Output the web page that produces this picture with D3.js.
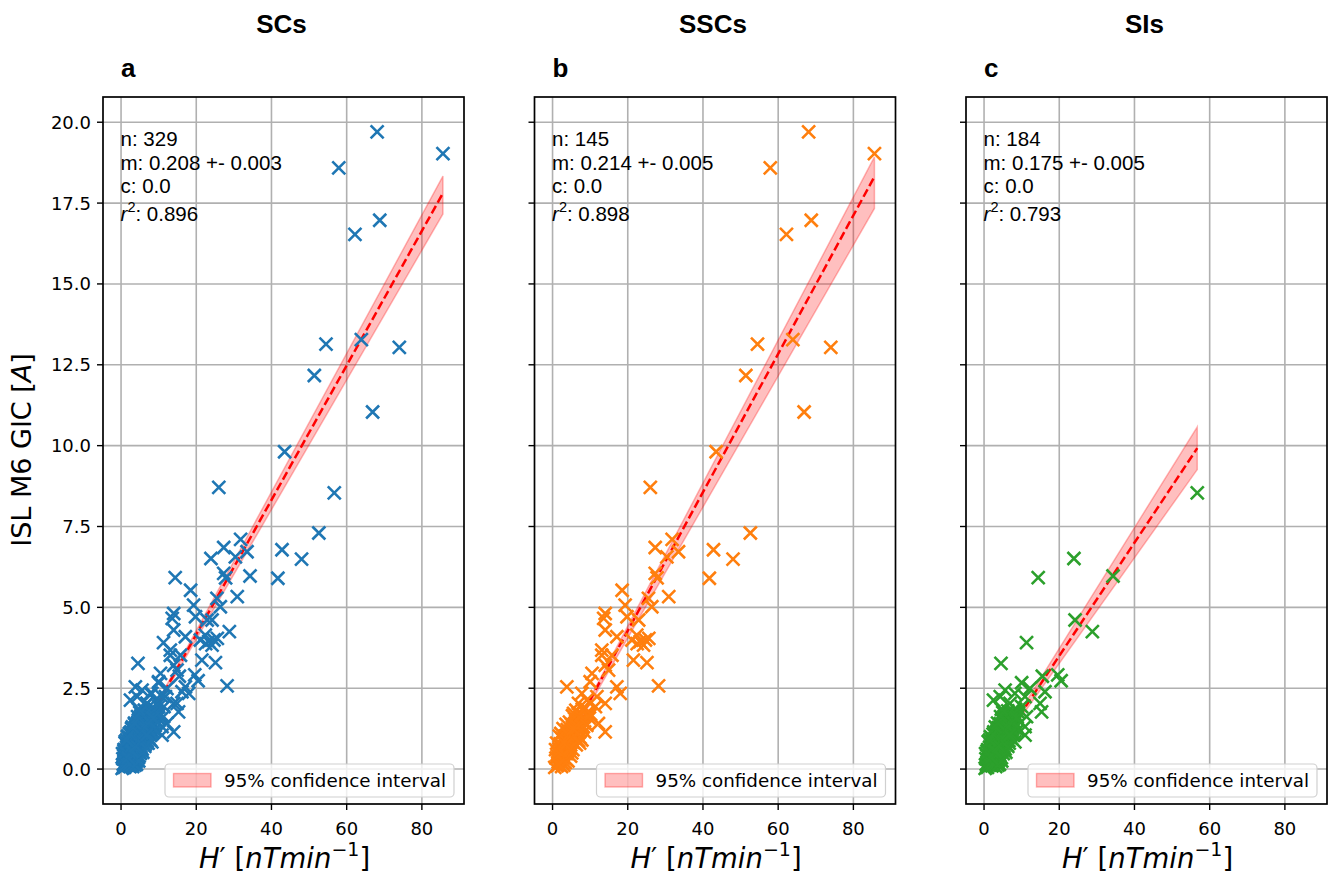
<!DOCTYPE html>
<html>
<head>
<meta charset="utf-8">
<script src="https://cdn.jsdelivr.net/npm/d3@7"></script>
<style>
  body { margin: 0; background: #ffffff; }
  svg { display: block; }
</style>
</head>
<body>
<svg id="chart" width="1328" height="876"></svg>
<script>
// ---- data: H' [nT/min] vs ISL M6 GIC [A] ----
// Storm sudden commencements
const sscPoints = [
  [68.1,19.70],[57.9,18.59],[85.6,19.03],[68.8,16.97],[62.2,16.53],[54.5,13.14],[63.9,13.28],[74.0,13.04],[51.4,12.17],[66.9,11.04],
  [43.5,9.81],[26.0,8.71],[52.6,7.30],[48.0,6.49],[41.7,5.90],[31.8,7.10],[27.3,6.85],[42.8,6.78],[30.4,6.56],[33.5,6.72],
  [27.3,6.05],[27.8,5.91],[30.9,5.33],[18.5,5.53],[25.5,5.28],[26.4,5.02],[19.3,5.07],[14.0,4.81],[13.6,4.66],[19.8,4.71],
  [22.9,4.61],[14.0,4.30],[17.1,4.09],[22.4,4.14],[23.3,3.94],[24.7,3.99],[22.5,3.88],[24.2,3.83],[25.6,4.04],[21.1,3.99],
  [13.1,3.68],[13.1,3.52],[15.8,3.52],[21.5,3.37],[25.1,3.29],[14.0,3.21],[14.9,3.06],[28.2,2.57],[10.5,2.96],[10.0,2.70],
  [3.8,2.54],[17.1,2.54],[18.0,2.34],[7.8,2.34],[11.8,2.24],[14.0,2.03],[9.1,2.13],[11.4,1.93],[6.9,2.03],[5.6,1.72],
  [10.0,1.67],[14.0,1.15],[12.2,1.41],[8.2,1.31],[7.8,0.90],
  [1.2,0.10],[2.3,0.45],[0.6,0.05],[3.1,0.62],[1.9,0.28],[4.4,0.95],[2.7,0.18],[5.2,1.10],[1.4,0.52],[3.6,0.30],
  [6.1,1.32],[2.0,0.78],[4.0,0.55],[0.9,0.34],[5.6,0.82],[3.3,1.02],[7.0,1.45],[2.5,0.95],[4.8,0.40],[6.6,1.05],
  [1.7,0.62],[3.9,1.22],[5.9,1.55],[2.9,0.35],[7.6,1.28],[4.3,0.70],[1.1,0.80],[6.3,0.75],[3.5,0.85],[8.2,1.62],
  [5.0,1.38],[2.2,1.10],[7.3,0.98],[4.6,1.15],[1.5,0.22],[6.8,1.72],[3.0,0.12],[5.4,0.60],[8.8,1.40],[2.6,0.68],
  [4.1,0.25],[7.9,1.85],[3.7,0.48],[6.0,1.00],[1.8,1.02],[5.7,1.22],[9.3,1.75],[2.4,0.08],[4.9,0.88],[7.1,1.18],
  [3.4,0.20],[6.4,1.48],[8.5,1.15],[1.3,0.40],[5.3,1.65],[3.8,0.72],[7.7,1.52],[2.8,1.25],[4.5,1.45],[9.8,1.58],
  [6.9,0.88],[1.6,0.14],[5.1,0.50],[8.0,1.30],[3.2,0.90],[6.2,1.82],[4.2,1.05],[2.1,0.58],[7.4,1.65],[5.8,1.02],
  [0.8,0.60],[3.6,1.38],[8.7,1.88],[4.7,0.65],[6.7,1.30],[2.9,0.82],[9.1,1.35],[5.5,1.25],[7.2,0.80],[10.1,1.70]
];

// Sudden impulses
const siPoints = [
  [56.7,8.54],[23.9,6.51],[14.4,5.92],[34.3,5.97],[24.2,4.61],[28.8,4.25],[11.3,3.91],[4.5,3.27],[19.6,2.91],[20.5,2.73],
  [15.5,2.87],[10.0,2.67],[12.2,2.49],[16.2,2.39],[5.6,2.44],[8.2,2.34],[2.5,2.13],[4.3,2.24],[6.9,2.03],[10.9,2.24],
  [14.9,2.03],[15.3,1.77],[10.0,1.93],[11.3,1.62],[10.9,1.31],[10.9,1.05],[8.2,0.84],
  [0.3,0.02],[0.6,0.15],[0.9,0.05],[1.2,0.30],[0.7,0.42],[1.0,0.60],[1.4,0.12],[1.6,0.48],[1.8,0.25],[1.9,0.75],
  [2.1,0.10],[2.2,0.38],[2.3,0.62],[2.5,0.90],[2.6,0.20],[2.7,0.52],[2.8,1.05],[2.9,0.33],[3.0,0.78],[3.1,0.08],
  [3.2,0.58],[3.3,1.15],[3.4,0.40],[3.5,0.92],[3.6,0.22],[3.7,0.70],[3.8,1.28],[3.9,0.50],[4.0,1.02],[4.1,0.15],
  [4.2,0.82],[4.3,1.40],[4.4,0.60],[4.5,1.12],[4.6,0.35],[4.7,0.95],[4.8,1.55],[4.9,0.72],[5.0,1.25],[5.1,0.48],
  [5.2,1.08],[5.3,1.62],[5.4,0.85],[5.5,1.35],[5.6,0.62],[5.7,1.18],[5.8,1.72],[5.9,0.98],[6.0,1.45],[6.1,0.75],
  [6.2,1.28],[6.3,1.80],[6.4,1.05],[6.5,1.55],[6.6,0.88],[6.8,1.38],[6.9,1.68],[7.0,1.15],[7.2,1.50],[7.3,0.95],
  [7.5,1.78],[7.6,1.25],[7.8,1.60],[8.0,1.10],[8.2,1.45],[8.4,1.85],[8.6,1.32],[8.8,1.62],[9.0,1.20],[9.2,1.75],
  [0.5,0.32],[0.8,0.55],[1.1,0.85],[1.3,0.20],[1.5,0.68],[1.7,1.00],[2.0,0.45],[2.4,0.72],[2.6,1.15],[3.0,0.30],
  [3.1,0.88],[3.4,0.65],[3.6,1.20],[3.9,0.28],[4.1,0.78],[4.4,1.30],[4.6,0.55],[4.9,1.05],[5.1,1.48],[5.3,0.70],
  [5.5,1.02],[5.7,1.52],[6.0,0.90],[6.2,1.62],[6.5,1.20],[6.7,0.80],[7.1,1.35],[7.4,1.65],[7.7,1.05],[8.1,1.72],
  [1.0,0.18],[1.4,0.40],[1.7,0.12],[2.2,0.85],[2.5,0.30],[2.8,0.65],[3.3,0.18],[3.5,0.50],[3.8,0.95],[4.2,0.42],
  [4.5,0.88],[4.8,1.20],[5.2,0.60],[5.6,1.30],[5.9,1.10],[6.3,0.70],[6.6,1.42],[7.0,0.98],[7.4,1.22],[7.9,1.40],
  [0.4,0.48],[0.7,0.08],[1.2,0.52],[1.6,0.28],[2.0,0.62],[2.3,0.15],[2.7,0.88],[3.2,0.42],[3.7,0.12],[4.0,0.62],
  [4.3,1.05],[4.7,0.25],[5.0,0.82],[5.4,1.12],[5.8,0.52],[6.1,1.25],[6.4,1.70],[6.9,1.10],[7.3,1.55],[8.3,1.30],
  [1.9,0.35],[2.9,0.55],[3.9,0.72],[4.9,0.95],[5.9,1.35],[6.7,1.05],[7.6,1.45],[8.5,1.58],[2.1,0.95],[3.4,1.02],
  [1.5,0.90],[2.4,1.08],[3.0,1.30],[3.6,1.42],[4.4,1.62],[5.0,1.75],[4.6,1.85]
];

// Panels: all commencements, SSCs, SIs
const panelTitles  = ["SCs", "SSCs", "SIs"];
const panelLetters = ["a", "b", "c"];
const panelColors  = ["#1f77b4", "#ff7f0e", "#2ca02c"];
const panelPoints  = [sscPoints.concat(siPoints), sscPoints, siPoints];

// Zero-intercept linear fits and 95% confidence bounds on the slope
const fitSlopes    = [0.208, 0.214, 0.175];
const fitSlopeErr  = ["0.003", "0.005", "0.005"];
const fitIntercept = ["0.0", "0.0", "0.0"];
const fitR2        = ["0.896", "0.898", "0.793"];
const ciSlopeLow   = [0.2005, 0.2025, 0.1633];
const ciSlopeHigh  = [0.2142, 0.2211, 0.1866];

// Axis ticks
const xTicks = [0, 20, 40, 60, 80];
const xTickLabels = ["0", "20", "40", "60", "80"];
const yTicks = [0, 2.5, 5, 7.5, 10, 12.5, 15, 17.5, 20];
const yTickLabels = ["0.0", "2.5", "5.0", "7.5", "10.0", "12.5", "15.0", "17.5", "20.0"];

// ---- layout ----
const svg = d3.select("#chart");
const panelLefts = [103, 534.5, 966];
const panelW = 361;
const plotTop = 97, plotBottom = 804;
const xDomain = [-4.8, 91.2];
const yDomain = [-1.08, 20.78];

const sansMpl = "'DejaVu Sans', sans-serif";
const sansArial = "'Liberation Sans', Arial, sans-serif";

const y = d3.scaleLinear().domain(yDomain).range([plotBottom, plotTop]);

panelLefts.forEach((left, i) => {
  const x = d3.scaleLinear().domain(xDomain).range([left, left + panelW]);
  const g = svg.append("g");
  const clipId = "clip" + i;
  svg.append("clipPath").attr("id", clipId)
    .append("rect").attr("x", left).attr("y", plotTop).attr("width", panelW).attr("height", plotBottom - plotTop);

  // grid
  const grid = g.append("g").attr("stroke", "#b0b0b0").attr("stroke-width", 1.6);
  xTicks.forEach(t => grid.append("line")
    .attr("x1", x(t)).attr("x2", x(t)).attr("y1", plotTop).attr("y2", plotBottom));
  yTicks.forEach(t => grid.append("line")
    .attr("x1", left).attr("x2", left + panelW).attr("y1", y(t)).attr("y2", y(t)));

  const pts = panelPoints[i];
  const xMin = d3.min(pts, d => d[0]);
  const xMax = d3.max(pts, d => d[0]);

  const plot = g.append("g").attr("clip-path", `url(#${clipId})`);

  // confidence band
  const band = [[xMin, xMin * ciSlopeLow[i]], [xMax, xMax * ciSlopeLow[i]],
                [xMax, xMax * ciSlopeHigh[i]], [xMin, xMin * ciSlopeHigh[i]]];
  plot.append("path")
    .attr("d", d3.line().x(d => x(d[0])).y(d => y(d[1]))(band) + "Z")
    .attr("fill", "rgba(255,0,0,0.25)")
    .attr("stroke", "rgba(255,0,0,0.28)")
    .attr("stroke-width", 1.5);

  // fit line
  const fit = [[xMin, xMin * fitSlopes[i]], [xMax, xMax * fitSlopes[i]]];
  plot.append("path")
    .attr("d", d3.line().x(d => x(d[0])).y(d => y(d[1]))(fit))
    .attr("fill", "none")
    .attr("stroke", "#ff0000")
    .attr("stroke-width", 2.5)
    .attr("stroke-dasharray", "8.5,3.7");

  // scatter crosses
  const r = 6.5;
  plot.append("g").selectAll("path").data(pts).join("path")
    .attr("transform", d => `translate(${x(d[0])},${y(d[1])})`)
    .attr("d", `M${-r},${-r}L${r},${r}M${-r},${r}L${r},${-r}`)
    .attr("stroke", panelColors[i])
    .attr("stroke-width", 2.6)
    .attr("fill", "none");

  // frame
  g.append("rect")
    .attr("x", left).attr("y", plotTop).attr("width", panelW).attr("height", plotBottom - plotTop)
    .attr("fill", "none").attr("stroke", "#000").attr("stroke-width", 1.7);

  // x ticks
  const xt = g.append("g");
  xTicks.forEach((t, k) => {
    xt.append("line").attr("x1", x(t)).attr("x2", x(t)).attr("y1", plotBottom).attr("y2", plotBottom + 6)
      .attr("stroke", "#000").attr("stroke-width", 1.4);
    xt.append("text").attr("x", x(t)).attr("y", 835).attr("text-anchor", "middle")
      .attr("font-family", sansMpl).attr("font-size", 18).attr("fill", "#000")
      .text(xTickLabels[k]);
  });

  // y ticks (labels on the first panel only)
  const yt = g.append("g");
  yTicks.forEach((t, k) => {
    yt.append("line").attr("x1", left - 6).attr("x2", left).attr("y1", y(t)).attr("y2", y(t))
      .attr("stroke", "#000").attr("stroke-width", 1.4);
    if (i === 0) {
      yt.append("text").attr("x", left - 12).attr("y", y(t)).attr("dy", "0.36em")
        .attr("text-anchor", "end").attr("font-family", sansMpl).attr("font-size", 18)
        .attr("fill", "#000").text(yTickLabels[k]);
    }
  });

  // titles
  g.append("text").attr("x", left + panelW / 2 - 2).attr("y", 33).attr("text-anchor", "middle")
    .attr("font-family", sansArial).attr("font-weight", "bold").attr("font-size", 26)
    .text(panelTitles[i]);
  g.append("text").attr("x", left + 18).attr("y", 77)
    .attr("font-family", sansArial).attr("font-weight", "bold").attr("font-size", 26)
    .text(panelLetters[i]);

  // fit statistics
  const sx = x(0) - 0.5;
  const st = g.append("g").attr("font-family", sansArial).attr("font-size", 20.5).attr("fill", "#000");
  st.append("text").attr("x", sx).attr("y", 146).text("n: " + pts.length);
  st.append("text").attr("x", sx).attr("y", 169.5).text("m: " + fitSlopes[i].toFixed(3) + " +- " + fitSlopeErr[i]);
  st.append("text").attr("x", sx).attr("y", 193).text("c: " + fitIntercept[i]);
  const r2 = st.append("text").attr("x", sx).attr("y", 220.5);
  r2.append("tspan").attr("font-style", "italic").text("r");
  r2.append("tspan").attr("font-size", 14.5).attr("dy", -8.5).text("2");
  r2.append("tspan").attr("dy", 8.5).text(": " + fitR2[i]);

  // legend
  const right = left + panelW;
  const lg = g.append("g");
  const bx = right - 299, by = 764;
  lg.append("rect").attr("x", bx).attr("y", by).attr("width", 289).attr("height", 33).attr("rx", 4)
    .attr("fill", "rgba(255,255,255,0.8)").attr("stroke", "#d0d0d0").attr("stroke-width", 1.2);
  lg.append("rect").attr("x", bx + 8.5).attr("y", by + 9.5).attr("width", 37.5).attr("height", 13.5)
    .attr("fill", "rgba(255,0,0,0.25)").attr("stroke", "rgba(255,0,0,0.3)").attr("stroke-width", 1.4);
  lg.append("text").attr("x", bx + 59).attr("y", by + 22.5).attr("font-family", sansMpl)
    .attr("font-size", 18.3).attr("fill", "#000").text("95% confidence interval");

  // x label: H' [nT min^-1]
  const xl = g.append("text").attr("x", left + panelW / 2 + 1).attr("y", 868).attr("text-anchor", "middle")
    .attr("font-family", sansMpl).attr("font-size", 27.5).attr("fill", "#000");
  xl.append("tspan").attr("font-style", "italic").text("H");
  xl.append("tspan").text("\u2032 [");
  xl.append("tspan").attr("font-style", "italic").text("nTmin");
  xl.append("tspan").attr("font-size", 19).attr("dy", -12).text("\u22121");
  xl.append("tspan").attr("dy", 12).text("]");
});

// shared y label
const yl = svg.append("text").attr("transform", "translate(31,450) rotate(-90)")
  .attr("text-anchor", "middle").attr("font-family", sansMpl).attr("font-size", 27).attr("fill", "#000");
yl.append("tspan").text("ISL M6 GIC [");
yl.append("tspan").attr("font-style", "italic").text("A");
yl.append("tspan").text("]");
</script>
</body>
</html>
